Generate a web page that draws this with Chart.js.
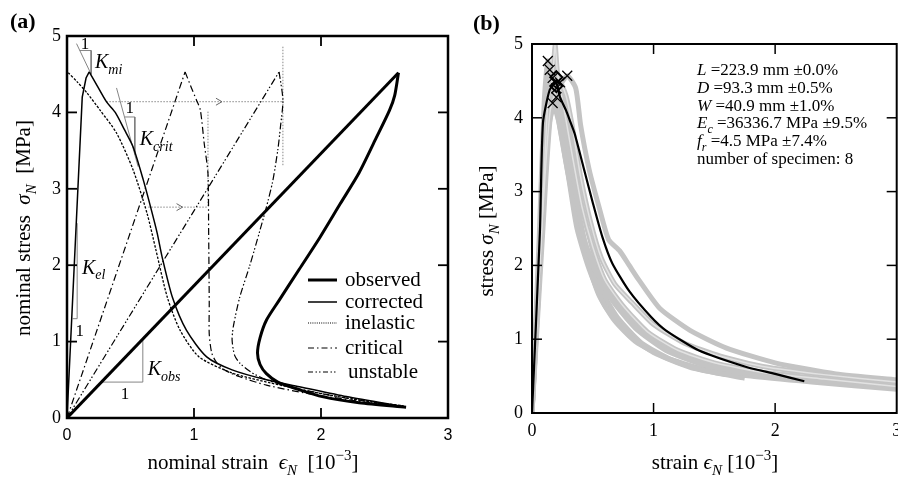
<!DOCTYPE html>
<html>
<head>
<meta charset="utf-8">
<script src="https://cdn.jsdelivr.net/npm/chart.js@4.4.1/dist/chart.umd.min.js"></script>
<style>
  html, body { margin: 0; padding: 0; background: #fff; overflow: hidden; width: 898px; height: 477px; }
  canvas { position: absolute; top: 0; }
  #chartA { left: 0; }
  #chartB { left: 460px; }
</style>
</head>
<body>
<canvas id="chartA" width="460" height="477"></canvas>
<canvas id="chartB" width="445" height="477"></canvas>
<script>
// ---- axis ticks ----
const strainTicks = [0, 1, 2, 3];
const stressTicks = [0, 1, 2, 3, 4, 5];

// ---- (a) nominal response, strain in 1e-3, stress in MPa ----
const observedLoad = [[0, 0], [2.61, 4.52]];
const observedSoft = [[2.61, 4.52], [2.58, 4.22], [2.54, 4.03], [2.43, 3.65], [2.30, 3.21], [2.15, 2.80],
  [1.99, 2.36], [1.83, 1.95], [1.67, 1.54], [1.57, 1.28], [1.52, 1.05], [1.50, 0.85], [1.52, 0.70],
  [1.57, 0.58], [1.66, 0.47], [1.83, 0.37], [2.01, 0.28], [2.30, 0.20], [2.67, 0.14]];
const correctedLoad = [[0, 0], [0.12, 4.20], [0.15, 4.45], [0.175, 4.53]];
const correctedSoft = [[0.175, 4.53], [0.22, 4.40], [0.31, 4.14], [0.38, 4.00], [0.45, 3.78], [0.52, 3.55],
  [0.60, 3.12], [0.66, 2.75], [0.71, 2.42], [0.75, 2.10], [0.83, 1.58], [0.94, 1.15], [1.10, 0.80],
  [1.30, 0.63], [1.57, 0.50], [1.83, 0.41], [2.20, 0.28], [2.65, 0.15]];
const inelastic = [[0.01, 4.52], [0.08, 4.40], [0.16, 4.25], [0.26, 4.03], [0.39, 3.73], [0.52, 3.25],
  [0.63, 2.68], [0.70, 2.20], [0.79, 1.58], [0.89, 1.15], [1.04, 0.80], [1.30, 0.59], [1.60, 0.46],
  [2.00, 0.32], [2.40, 0.21], [2.65, 0.16]];
const criticalLoad = [[0, 0], [0.93, 4.53]];
const criticalSoft = [[0.93, 4.53], [0.98, 4.32], [1.02, 4.16], [1.05, 4.03], [1.08, 3.60], [1.11, 3.20],
  [1.115, 2.50], [1.12, 1.50], [1.12, 1.10], [1.14, 0.85], [1.18, 0.72], [1.25, 0.62], [1.36, 0.54],
  [1.57, 0.43], [1.90, 0.32], [2.30, 0.22], [2.65, 0.15]];
const unstableLoad = [[0, 0], [1.67, 4.53]];
const unstableSoft = [[1.67, 4.53], [1.70, 4.16], [1.68, 3.80], [1.66, 3.51], [1.62, 3.10], [1.57, 2.76],
  [1.52, 2.46], [1.44, 2.00], [1.36, 1.58], [1.31, 1.20], [1.30, 1.02], [1.32, 0.82], [1.36, 0.72],
  [1.45, 0.60], [1.57, 0.50], [1.80, 0.39], [2.20, 0.26], [2.65, 0.15]];

// slope triangles and tangents
const kMiTangent = [[0.075, 4.90], [0.19, 4.50]];
const kMiLegs = [[0.10, 4.81], [0.19, 4.81], [0.19, 4.50]];
const kCritTangent = [[0.39, 4.32], [0.56, 3.29]];
const kCritLegs = [[0.456, 3.94], [0.534, 3.94], [0.534, 3.45]];
const kElLegs = [[0.045, 1.30], [0.08, 1.30], [0.08, 2.55]];
const kObsLegs = [[0.275, 0.47], [0.597, 0.47], [0.597, 1.03]];
// snap-back paths
const snapUpper = [[0.31, 4.14], [1.70, 4.14]];
const dropUpper = [[1.70, 4.86], [1.70, 3.29]];
const snapLower = [[0.64, 2.76], [1.11, 2.76]];
const dropLower = [[1.11, 4.01], [1.11, 2.76]];
const arrowHeads = [[1.22, 4.14], [0.91, 2.76]];

// ---- (b) eight specimens and their mean ----
const specimen1 = [[0, 0], [0.06, 2.40], [0.10, 4.20], [0.13, 4.77], [0.17, 4.50], [0.22, 3.95], [0.30, 3.20],
  [0.37, 2.50], [0.47, 1.95], [0.60, 1.45], [0.80, 1.05], [1.00, 0.82], [1.30, 0.62], [1.60, 0.52]];
const specimen2 = [[0, 0], [0.07, 2.50], [0.11, 4.30], [0.146, 4.65], [0.19, 4.45], [0.25, 3.90], [0.34, 3.10],
  [0.42, 2.40], [0.52, 1.95], [0.65, 1.55], [0.85, 1.15], [1.10, 0.85], [1.40, 0.66], [1.80, 0.52],
  [2.30, 0.44], [2.60, 0.40]];
const specimen3 = [[0, 0], [0.08, 2.50], [0.13, 4.20], [0.17, 4.54], [0.19, 5.00], [0.21, 4.60], [0.26, 4.15],
  [0.33, 3.50], [0.41, 2.80], [0.50, 2.25], [0.60, 1.80], [0.75, 1.45], [0.95, 1.10], [1.20, 0.85],
  [1.50, 0.68], [1.90, 0.55], [2.40, 0.46], [3.00, 0.36]];
const specimen4 = [[0, 0], [0.09, 2.50], [0.15, 4.00], [0.22, 4.40], [0.29, 4.57], [0.36, 4.40], [0.40, 3.90],
  [0.47, 3.30], [0.55, 2.80], [0.63, 2.35], [0.72, 2.20], [0.80, 2.00], [0.88, 1.80], [1.05, 1.42],
  [1.30, 1.12], [1.60, 0.88], [2.00, 0.68], [2.50, 0.53], [3.00, 0.45]];
const specimen5 = [[0, 0], [0.08, 2.40], [0.14, 3.90], [0.20, 4.28], [0.24, 4.05], [0.30, 3.50], [0.38, 2.75],
  [0.46, 2.15], [0.56, 1.70], [0.70, 1.30], [0.90, 0.95], [1.15, 0.72], [1.40, 0.58], [1.75, 0.47]];
const specimen6 = [[0, 0], [0.07, 2.50], [0.13, 3.90], [0.17, 4.20], [0.22, 3.95], [0.28, 3.40], [0.36, 2.70],
  [0.45, 2.10], [0.55, 1.60], [0.68, 1.25], [0.85, 0.97], [1.10, 0.75], [1.40, 0.60], [1.80, 0.50],
  [2.30, 0.42], [3.00, 0.32]];
const specimen7 = [[0, 0], [0.08, 2.50], [0.15, 4.10], [0.23, 4.48], [0.28, 4.30], [0.33, 3.90], [0.40, 3.20],
  [0.48, 2.60], [0.57, 2.10], [0.68, 1.75], [0.82, 1.50], [1.00, 1.20], [1.25, 0.95], [1.55, 0.77],
  [1.90, 0.63], [2.40, 0.52], [3.00, 0.42]];
const specimen8 = [[0, 0], [0.07, 2.40], [0.14, 4.00], [0.20, 4.40], [0.26, 4.20], [0.31, 3.75], [0.38, 3.05],
  [0.46, 2.45], [0.55, 1.95], [0.66, 1.60], [0.80, 1.30], [1.00, 1.00], [1.25, 0.80], [1.50, 0.66],
  [1.90, 0.55], [2.20, 0.50]];
const meanCurve = [[0, 0], [0.065, 2.45], [0.09, 3.93], [0.146, 4.38], [0.20, 4.47], [0.23, 4.28], [0.28, 4.10],
  [0.31, 3.97], [0.35, 3.79], [0.43, 3.29], [0.50, 2.85], [0.58, 2.38], [0.66, 2.03], [0.80, 1.65],
  [0.98, 1.30], [1.10, 1.12], [1.37, 0.85], [1.77, 0.62], [2.00, 0.53], [2.24, 0.43]];
const specimenPeaks = [[0.13, 4.77], [0.146, 4.65], [0.17, 4.54], [0.29, 4.57], [0.20, 4.28], [0.17, 4.20],
  [0.23, 4.48], [0.20, 4.40]];
const meanPeaks = [[0.20, 4.55], [0.20, 4.43]];
const specimenStats = [
  [['L', 'i'], [' =223.9 mm ±0.0%', 'r']],
  [['D', 'i'], [' =93.3 mm ±0.5%', 'r']],
  [['W', 'i'], [' =40.9 mm ±1.0%', 'r']],
  [['E', 'i'], ['c', 'sub'], [' =36336.7 MPa ±9.5%', 'r']],
  [['f', 'i'], ['r', 'sub'], [' =4.5 MPa ±7.4%', 'r']],
  [['number of specimen: 8', 'r']]
];

const SERIF = '"Liberation Serif", "Times New Roman", serif';
const SANS = '"Liberation Sans", Arial, sans-serif';

const pts = arr => arr.map(([x, y]) => ({ x, y }));
const line = (arr, style) => Object.assign({
  data: pts(arr), showLine: true, pointRadius: 0, borderColor: '#000', borderWidth: 1.2,
  fill: false, tension: 0
}, style);

// rich text: runs of [text, kind] with kind r / i / sub / sup / b
function fontFor(k, size) {
  if (k === 'i') return `italic ${size}px ${SERIF}`;
  if (k === 'sub') return `italic ${Math.round(size * 0.7)}px ${SERIF}`;
  if (k === 'sup') return `${Math.round(size * 0.7)}px ${SERIF}`;
  if (k === 'b') return `bold ${size}px ${SERIF}`;
  return `${size}px ${SERIF}`;
}
function richWidth(ctx, runs, size) {
  let w = 0;
  runs.forEach(([t, k]) => { ctx.font = fontFor(k, size); w += ctx.measureText(t).width; });
  return w;
}
function drawRich(ctx, runs, x, y, size, align) {
  let cx = align === 'center' ? x - richWidth(ctx, runs, size) / 2 : x;
  ctx.textAlign = 'left';
  ctx.textBaseline = 'alphabetic';
  runs.forEach(([t, k]) => {
    ctx.font = fontFor(k, size);
    let dy = 0;
    if (k === 'sub') dy = size * 0.28;
    if (k === 'sup') dy = -size * 0.42;
    ctx.fillText(t, cx, y + dy);
    cx += ctx.measureText(t).width;
  });
}

// keep the plot box where the layout padding puts it
const noEdgePad = s => { s.paddingLeft = 0; s.paddingRight = 0; s.paddingTop = 0; s.paddingBottom = 0; };

// closed frame with inward ticks on all four sides, plus titles
const paperFrame = {
  id: 'paperFrame',
  afterDraw(chart, args, o) {
    const { ctx, chartArea: a, scales: { x, y } } = chart;
    ctx.save();
    ctx.strokeStyle = '#000';
    ctx.fillStyle = '#000';
    ctx.lineWidth = o.tickWidth;
    const seg = (x1, y1, x2, y2) => { ctx.beginPath(); ctx.moveTo(x1, y1); ctx.lineTo(x2, y2); ctx.stroke(); };
    x.ticks.forEach(t => {
      if (t.value <= x.min || t.value >= x.max) return;
      const p = x.getPixelForValue(t.value);
      seg(p, a.bottom, p, a.bottom - o.tickLen);
      seg(p, a.top, p, a.top + o.tickLen);
    });
    y.ticks.forEach(t => {
      if (t.value <= y.min || t.value >= y.max) return;
      const p = y.getPixelForValue(t.value);
      seg(a.left, p, a.left + o.tickLen, p);
      seg(a.right, p, a.right - o.tickLen, p);
    });
    ctx.lineWidth = o.frameWidth;
    ctx.strokeRect(a.left, a.top, a.right - a.left, a.bottom - a.top);

    drawRich(ctx, [[o.panel, 'b']], o.panelPos[0], o.panelPos[1], 22, 'left');
    drawRich(ctx, o.xTitle, o.xTitlePos[0], o.xTitlePos[1], o.titleSize, 'center');
    ctx.translate(o.yTitlePos[0], o.yTitlePos[1]);
    ctx.rotate(-Math.PI / 2);
    drawRich(ctx, o.yTitle, 0, 0, o.titleSize, 'center');
    ctx.restore();
  }
};

// labels, slope triangle notes and legend for the nominal response panel
const nominalNotes = {
  id: 'nominalNotes',
  afterDatasetsDraw(chart) {
    const { ctx, scales: { x, y } } = chart;
    const P = ([u, v]) => [x.getPixelForValue(u), y.getPixelForValue(v)];
    ctx.save();
    ctx.fillStyle = '#000';
    ctx.strokeStyle = '#666';
    ctx.lineWidth = 1;
    arrowHeads.forEach(h => {
      const [px, py] = P(h);
      ctx.beginPath(); ctx.moveTo(px - 6, py - 3.5); ctx.lineTo(px, py); ctx.lineTo(px - 6, py + 3.5); ctx.stroke();
    });
    const kLabel = (sub, at) => {
      const [px, py] = P(at);
      drawRich(ctx, [['K', 'i'], [sub, 'sub']], px, py + 7, 20, 'left');
    };
    kLabel('mi', [0.22, 4.67]);
    kLabel('crit', [0.573, 3.66]);
    kLabel('el', [0.118, 1.98]);
    kLabel('obs', [0.636, 0.65]);
    [[0.141, 4.91], [0.495, 4.07], [0.10, 1.15], [0.456, 0.33]].forEach(at => {
      const [px, py] = P(at);
      drawRich(ctx, [['1', 'r']], px, py + 6, 17, 'center');
    });

    // legend
    const items = [
      ['observed', [], 3],
      ['corrected', [], 1.5],
      ['inelastic', [1, 1.2], 1.2],
      ['critical', [6, 3, 1.5, 3], 1.2],
      ['unstable', [5, 2.5, 1.5, 2, 1.5, 2.5], 1.2]
    ];
    const rows = [280, 302, 323, 348, 372];
    items.forEach(([name, dash, w], i) => {
      ctx.strokeStyle = '#000';
      ctx.lineWidth = w;
      ctx.setLineDash(dash);
      ctx.beginPath(); ctx.moveTo(308, rows[i]); ctx.lineTo(337, rows[i]); ctx.stroke();
      ctx.setLineDash([]);
      drawRich(ctx, [[name, 'r']], i === 4 ? 348 : 345, rows[i] + 6, 21, 'left');
    });
    ctx.restore();
  }
};

const guide = arr => line(arr, { borderColor: '#777', borderWidth: 0.9 });
const dotted = arr => line(arr, { borderColor: '#888', borderWidth: 1, borderDash: [1.5, 1.5] });
const soft = { tension: 0.25 };

new Chart(document.getElementById('chartA'), {
  type: 'scatter',
  data: {
    datasets: [
      line(observedLoad, { borderWidth: 3 }),
      line(observedSoft, Object.assign({ borderWidth: 3 }, soft)),
      line(correctedLoad, { borderWidth: 1.5 }),
      line(correctedSoft, Object.assign({ borderWidth: 1.5 }, soft)),
      line(inelastic, Object.assign({ borderWidth: 1.3, borderDash: [2.5, 1.5] }, soft)),
      line(criticalLoad, { borderDash: [7, 3, 1.5, 3] }),
      line(criticalSoft, Object.assign({ borderDash: [7, 3, 1.5, 3] }, soft)),
      line(unstableLoad, { borderDash: [7, 2.5, 1.5, 2, 1.5, 2.5] }),
      line(unstableSoft, Object.assign({ borderDash: [7, 2.5, 1.5, 2, 1.5, 2.5] }, soft)),
      guide(kMiTangent), guide(kMiLegs),
      guide(kCritTangent), guide(kCritLegs),
      guide(kElLegs), guide(kObsLegs),
      dotted(snapUpper), dotted(dropUpper), dotted(snapLower), dotted(dropLower)
    ]
  },
  options: {
    responsive: false,
    animation: false,
    devicePixelRatio: 1,
    layout: { padding: { left: 0, top: 36, right: 12, bottom: 0 } },
    plugins: {
      legend: { display: false },
      tooltip: { enabled: false },
      paperFrame: {
        frameWidth: 2.5, tickWidth: 1.8, tickLen: 10,
        panel: '(a)', panelPos: [10, 28],
        titleSize: 21,
        xTitle: [['nominal strain  ', 'r'], ['ϵ', 'i'], ['N', 'sub'], ['  [10', 'r'], ['−3', 'sup'], [']', 'r']],
        xTitlePos: [253, 469],
        yTitle: [['nominal stress  ', 'r'], ['σ', 'i'], ['N', 'sub'], ['  [MPa]', 'r']],
        yTitlePos: [30, 228]
      }
    },
    scales: {
      x: {
        type: 'linear', min: 0, max: 3,
        afterBuildTicks: s => { s.ticks = strainTicks.map(v => ({ value: v })); },
        afterFit: s => { s.height = 59; noEdgePad(s); },
        grid: { display: false, drawTicks: false },
        border: { display: false },
        ticks: { padding: 8, color: '#000', font: { family: SANS, size: 16 } }
      },
      y: {
        type: 'linear', min: 0, max: 5,
        afterBuildTicks: s => { s.ticks = stressTicks.map(v => ({ value: v })); },
        afterFit: s => { s.width = 67; noEdgePad(s); },
        grid: { display: false, drawTicks: false },
        border: { display: false },
        ticks: { padding: 6, color: '#000', font: { family: SERIF, size: 18 } }
      }
    }
  },
  plugins: [paperFrame, nominalNotes]
});

// specimen statistics block
const statsNote = {
  id: 'statsNote',
  afterDraw(chart) {
    const { ctx } = chart;
    ctx.save();
    ctx.fillStyle = '#000';
    specimenStats.forEach((runs, i) => drawRich(ctx, runs, 237, 75 + i * 17.8, 17, 'left'));
    ctx.restore();
  }
};

const grey = (arr, c, w) => line(arr, { borderColor: c, borderWidth: w, tension: 0.2 });

new Chart(document.getElementById('chartB'), {
  type: 'scatter',
  data: {
    datasets: [
      { data: pts(specimenPeaks), showLine: false, pointStyle: 'crossRot', pointRadius: 7,
        borderColor: '#000', borderWidth: 1.3 },
      { data: pts(meanPeaks), showLine: false, pointStyle: 'rectRot', pointRadius: 6,
        borderColor: '#000', backgroundColor: 'rgba(0,0,0,0)', borderWidth: 2 },
      line(meanCurve, { borderWidth: 2.2, tension: 0.2 }),
      grey(specimen7, '#e2e2e2', 1.5),
      grey(specimen3, '#e2e2e2', 1.5),
      grey(specimen1, '#c4c4c4', 5),
      grey(specimen2, '#c4c4c4', 5),
      grey(specimen3, '#c4c4c4', 5),
      grey(specimen4, '#c4c4c4', 5),
      grey(specimen5, '#c4c4c4', 5),
      grey(specimen6, '#c4c4c4', 5),
      grey(specimen7, '#c4c4c4', 5),
      grey(specimen8, '#c4c4c4', 5)
    ]
  },
  options: {
    responsive: false,
    animation: false,
    devicePixelRatio: 1,
    layout: { padding: { left: 0, top: 44, right: 4, bottom: 0 } },
    plugins: {
      legend: { display: false },
      tooltip: { enabled: false },
      paperFrame: {
        frameWidth: 2, tickWidth: 1.5, tickLen: 10,
        panel: '(b)', panelPos: [13, 30],
        titleSize: 21,
        xTitle: [['strain ', 'r'], ['ϵ', 'i'], ['N', 'sub'], [' [10', 'r'], ['−3', 'sup'], [']', 'r']],
        xTitlePos: [255, 469],
        yTitle: [['stress ', 'r'], ['σ', 'i'], ['N', 'sub'], [' [MPa]', 'r']],
        yTitlePos: [33, 231]
      }
    },
    scales: {
      x: {
        type: 'linear', min: 0, max: 3,
        afterBuildTicks: s => { s.ticks = strainTicks.map(v => ({ value: v })); },
        afterFit: s => { s.height = 64; noEdgePad(s); },
        grid: { display: false, drawTicks: false },
        border: { display: false },
        ticks: { padding: 7, color: '#000', font: { family: SERIF, size: 18 } }
      },
      y: {
        type: 'linear', min: 0, max: 5,
        afterBuildTicks: s => { s.ticks = stressTicks.map(v => ({ value: v })); },
        afterFit: s => { s.width = 72; noEdgePad(s); },
        grid: { display: false, drawTicks: false },
        border: { display: false },
        ticks: { padding: 9, color: '#000', font: { family: SERIF, size: 18 } }
      }
    }
  },
  plugins: [paperFrame, statsNote]
});
</script>
</body>
</html>
